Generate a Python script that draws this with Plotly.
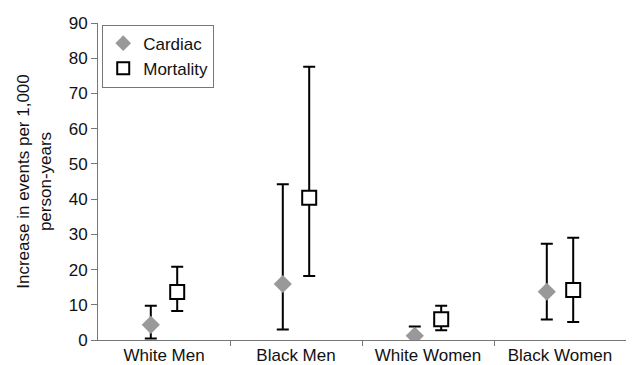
import plotly.graph_objects as go

categories = ["White Men", "Black Men", "White Women", "Black Women"]
cardiac = [4.3, 15.9, 1.2, 13.7]
cardiac_hi = [9.7, 44.2, 3.8, 27.3]
cardiac_lo = [0.4, 3.0, -0.3, 5.8]
mortality = [13.6, 40.4, 5.9, 14.2]
mortality_hi = [20.8, 77.6, 9.7, 29.0]
mortality_lo = [8.2, 18.2, 2.8, 5.1]

idx = list(range(len(categories)))
off = 0.1

fig = go.Figure()
fig.add_trace(go.Scatter(
    x=[i - off for i in idx], y=cardiac, mode="markers", name="Cardiac",
    marker=dict(symbol="diamond", size=14, color="#999999", line=dict(width=0)),
    error_y=dict(type="data", symmetric=False,
                 array=[h - v for h, v in zip(cardiac_hi, cardiac)],
                 arrayminus=[v - l for v, l in zip(cardiac, cardiac_lo)],
                 color="black", thickness=2, width=6),
))
fig.add_trace(go.Scatter(
    x=[i + off for i in idx], y=mortality, mode="markers", name="Mortality",
    marker=dict(symbol="square", size=14, color="white", line=dict(width=2, color="black")),
    error_y=dict(type="data", symmetric=False,
                 array=[h - v for h, v in zip(mortality_hi, mortality)],
                 arrayminus=[v - l for v, l in zip(mortality, mortality_lo)],
                 color="black", thickness=2, width=6),
))

fig.update_layout(
    width=633, height=365,
    margin=dict(l=98, r=7, t=23, b=25),
    paper_bgcolor="white", plot_bgcolor="white",
    font=dict(family="Liberation Sans, Arial, sans-serif", color="#111111"),
    showlegend=True,
    legend=dict(x=0.008, y=0.995, xanchor="left", yanchor="top",
                bgcolor="white", bordercolor="#777777", borderwidth=1,
                font=dict(size=17), itemsizing="constant", itemwidth=30,
                tracegroupgap=0),
    xaxis=dict(range=[-0.5, 3.5], tickvals=idx, ticktext=categories,
               ticks="", showgrid=False, zeroline=False, automargin=False,
               showline=True, linecolor="#777777", linewidth=1,
               tickfont=dict(size=17),
               minor=dict(tickvals=[0.5, 1.5, 2.5], ticks="outside",
                          ticklen=5, tickcolor="#777777", showgrid=False)),
    yaxis=dict(range=[0, 90], dtick=10, ticks="outside", ticklen=6,
               tickcolor="#777777", showgrid=False, zeroline=False,
               automargin=False,
               showline=True, linecolor="#777777", linewidth=1,
               tickfont=dict(size=17),
               title=dict(text="Increase in events per 1,000<br>person-years",
                          font=dict(size=17), standoff=12)),
)

fig.write_html("out.html")
